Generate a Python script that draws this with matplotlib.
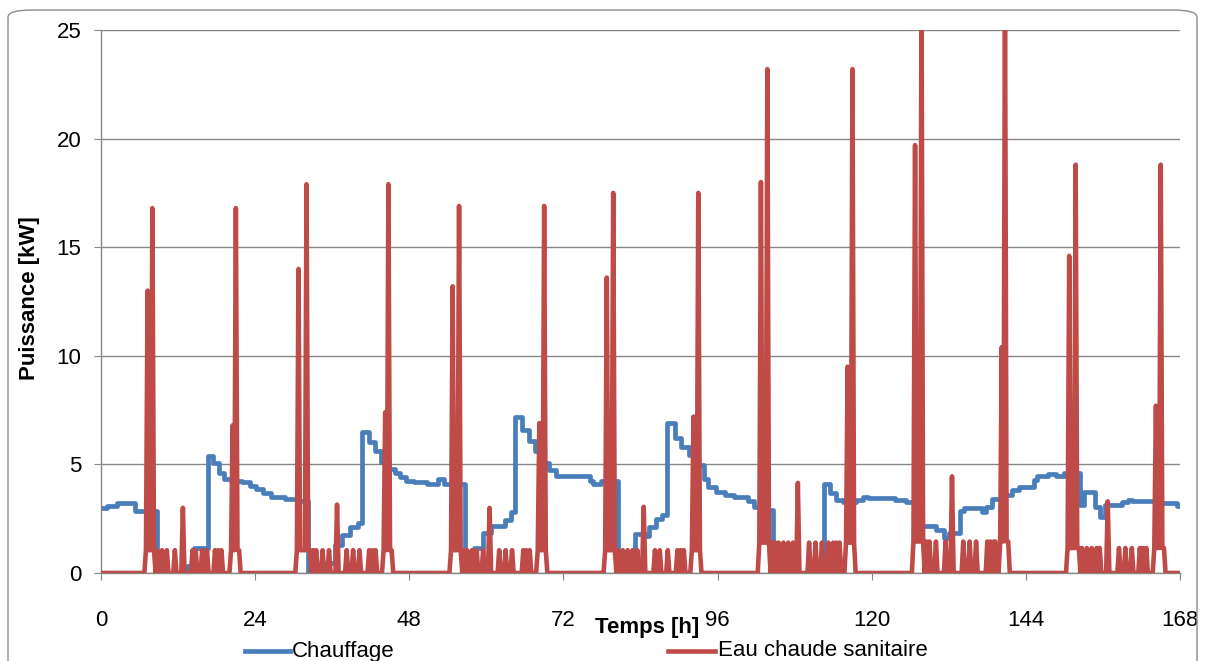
import numpy as np
import matplotlib
matplotlib.use("Agg")
import matplotlib.pyplot as plt
from matplotlib.lines import Line2D
from matplotlib.patches import FancyBboxPatch

plt.rcParams['font.family'] = ['Liberation Sans Narrow', 'Liberation Sans', 'DejaVu Sans']

# Chauffage: step levels (start hour, kW)
chauffage_t = [0, 1, 2.5, 5.3, 8.7, 13.4, 14.5, 16.6, 17.4, 18.4, 19.2, 20.2, 22.0, 23.2,
               24.2, 25.2, 26.4, 28.6, 30.5, 32.2, 35.0, 36.5, 37.5, 38.8, 40.0, 40.6, 41.8,
               42.6, 43.6, 44.8, 45.8, 46.6, 47.5, 48.8, 50.8, 52.5, 53.4, 56.6, 58.0, 59.5,
               60.7, 62.9, 63.9, 64.5, 65.6, 66.7, 67.6, 68.9, 69.7, 70.9, 76.1, 76.6, 77.9,
               80.5, 81.9, 83.2, 84.7, 85.3, 86.4, 87.4, 88.2, 89.4, 90.3, 91.5, 92.8, 93.9,
               94.5, 95.8, 97.1, 98.6, 100.7, 101.7, 103.0, 104.6, 112.5, 113.5, 114.4, 115.5,
               117.5, 118.6, 119.4, 123.6, 125.4, 126.8, 130.0, 131.3, 132.0, 133.8, 134.3,
               137.2, 137.8, 138.7, 140.1, 141.9, 142.9, 145.2, 145.8, 147.4, 148.7, 150.0,
               152.4, 153.1, 154.7, 155.5, 156.3, 158.9, 159.9, 160.5, 164.1, 167.6, 168.0]
chauffage_v = [3.0, 3.1, 3.2, 2.85, 0.0, 0.3, 1.15, 5.4, 5.05, 4.6, 4.35, 4.25, 4.2, 4.0,
               3.85, 3.7, 3.5, 3.4, 3.3, 0.0, 0.45, 1.3, 1.75, 2.1, 2.3, 6.5, 6.05,
               5.6, 5.1, 4.8, 4.6, 4.4, 4.25, 4.2, 4.1, 4.35, 4.1, 0.0, 1.15, 1.85,
               2.15, 2.45, 2.8, 7.2, 6.6, 6.1, 5.6, 5.05, 4.75, 4.45, 4.25, 4.1, 4.25,
               0.0, 0.75, 1.8, 1.7, 2.1, 2.5, 2.65, 6.9, 6.2, 5.8, 5.45, 4.95, 4.35,
               3.95, 3.75, 3.6, 3.5, 3.3, 3.05, 2.9, 0.0, 4.1, 3.7, 3.35, 3.25,
               3.35, 3.5, 3.45, 3.35, 3.25, 2.15, 2.0, 1.6, 1.85, 2.85, 3.0,
               2.8, 3.05, 3.4, 3.6, 3.8, 3.95, 4.3, 4.45, 4.55, 4.45, 4.6,
               3.15, 3.75, 3.05, 2.6, 3.15, 3.25, 3.35, 3.3, 3.2, 3.1, 3.1]

# Eau chaude sanitaire: draw-off peaks on a quarter-hour grid (hour, kW)
ecs_t = [7.0, 7.25, 7.5, 7.75, 8.0, 8.25, 8.75, 9.5, 10.25, 11.5, 12.75, 14.25, 14.75, 15.75,
         16.5, 17.75, 18.25, 18.75, 20.25, 20.5, 20.75, 21.0, 21.25, 21.5,
         30.5, 30.75, 31.0, 31.25, 31.5, 31.75, 32.0, 32.25, 32.5, 33.0, 33.5, 34.5, 35.5,
         36.75, 38.25, 39.25, 40.25, 41.75, 42.25, 42.75, 44.0, 44.25, 44.5, 44.75, 45.0, 45.25,
         54.5, 54.75, 55.0, 55.25, 55.5, 55.75, 56.0, 56.5, 57.0, 57.75, 58.5, 59.5, 60.5,
         62.0, 63.0, 64.0, 65.75, 66.25, 66.75, 68.0, 68.25, 68.5, 68.75, 69.0, 69.25,
         78.5, 78.75, 79.0, 79.25, 79.5, 79.75, 80.0, 80.5, 81.25, 82.0, 82.75, 83.5, 84.5,
         86.25, 87.0, 88.25, 89.75, 90.25, 90.75, 92.0, 92.25, 92.5, 92.75, 93.0, 93.25,
         102.5, 102.75, 103.0, 103.25, 103.5, 103.75, 104.0, 104.5, 105.0, 105.5, 106.25,
         107.0, 107.75, 108.5, 110.25, 111.25, 112.25, 113.25, 114.0, 114.5, 115.0,
         116.0, 116.25, 116.5, 116.75, 117.0, 117.25,
         126.5, 126.75, 127.0, 127.25, 127.5, 127.75, 128.0, 128.5, 129.0, 130.0, 131.5,
         132.5, 134.25, 135.25, 136.25, 138.0, 138.5, 139.0, 139.25,
         140.0, 140.25, 140.5, 140.75, 141.0, 141.25,
         150.5, 150.75, 151.0, 151.25, 151.5, 151.75, 152.0, 152.25, 152.75, 153.5, 154.25,
         155.0, 155.5, 156.75, 158.5, 159.5, 160.5, 161.75, 162.25, 162.75,
         164.0, 164.25, 164.5, 164.75, 165.0, 165.25, 165.5]
ecs_v = [1.05, 13.0, 1.05, 1.05, 16.8, 1.05, 1.05, 1.05, 1.05, 1.05, 3.0, 1.05, 1.05, 1.05,
         1.05, 1.05, 1.05, 1.05, 1.05, 6.8, 1.05, 16.8, 1.05, 1.05,
         1.05, 14.0, 1.05, 1.05, 1.05, 1.05, 17.9, 1.05, 1.05, 1.05, 1.05, 1.05, 1.05,
         3.15, 1.05, 1.05, 1.05, 1.05, 1.05, 1.05, 1.05, 7.4, 1.05, 17.9, 1.05, 1.05,
         1.05, 13.2, 1.05, 1.05, 1.05, 16.9, 1.05, 1.05, 1.05, 1.05, 1.05, 1.05, 3.0,
         1.05, 1.05, 1.05, 1.05, 1.05, 1.05, 1.05, 6.9, 1.05, 1.05, 16.9, 1.05,
         1.05, 13.6, 1.05, 1.05, 1.05, 17.5, 1.05, 1.05, 1.05, 1.05, 1.05, 1.05, 3.05,
         1.05, 1.05, 1.05, 1.05, 1.05, 1.05, 1.05, 7.2, 1.05, 1.05, 17.5, 1.05,
         1.4, 18.0, 1.4, 1.4, 1.4, 23.2, 1.4, 1.4, 1.4, 1.4, 1.4,
         1.4, 1.4, 4.15, 1.4, 1.4, 1.4, 1.4, 1.4, 1.4, 1.4,
         1.4, 9.5, 1.4, 1.4, 23.2, 1.4,
         1.45, 19.7, 1.45, 1.45, 1.45, 27.0, 1.45, 1.45, 1.45, 1.45, 1.45,
         4.45, 1.45, 1.45, 1.45, 1.45, 1.45, 1.45, 1.45,
         1.45, 10.4, 1.45, 27.0, 1.45, 1.45,
         1.15, 14.6, 1.15, 1.15, 1.15, 18.8, 1.15, 1.15, 1.15, 1.15, 1.15,
         1.15, 1.15, 3.3, 1.15, 1.15, 1.15, 1.15, 1.15, 1.15,
         1.15, 7.7, 1.15, 1.15, 18.8, 1.15, 1.15]

x_ticks = [0, 24, 48, 72, 96, 120, 144, 168]
y_ticks = [0, 5, 10, 15, 20, 25]

blue = '#4A7EBB'
red = '#BE4B48'
grey = '#868686'

# quarter-hour grid for the hot water series
grid = np.arange(0, 168.001, 0.25)
ecs = np.zeros_like(grid)
for t, v in zip(ecs_t, ecs_v):
    ecs[int(round(t * 4))] = v

fig = plt.figure(figsize=(12.05, 6.61), dpi=100)
ax = fig.add_axes([101 / 1205, 1 - 573 / 661, 1079 / 1205, 543 / 661])

ax.plot(chauffage_t, chauffage_v, drawstyle='steps-post', color=blue, lw=3.4,
        solid_joinstyle='round', zorder=2)
ax.plot(grid, ecs, color=red, lw=3.3, solid_joinstyle='round', zorder=3)

ax.set_xlim(0, 168)
ax.set_ylim(0, 25)
ax.set_xticks(x_ticks)
ax.set_yticks(y_ticks)
ax.yaxis.grid(True, color=grey, lw=1.0)
ax.set_axisbelow(True)
for side in ['top', 'right']:
    ax.spines[side].set_visible(False)
for side in ['left', 'bottom']:
    ax.spines[side].set_color(grey)
    ax.spines[side].set_linewidth(1.0)
ax.tick_params(axis='both', direction='out', length=5, color=grey, labelsize=16)
ax.tick_params(axis='x', pad=22)
ax.tick_params(axis='y', pad=9)

fig.text(30 / 1205, 1 - 298 / 661, 'Puissance [kW]', rotation=90, ha='center', va='center',
         fontsize=16, fontweight='bold')
fig.text(647 / 1205, 1 - 628 / 661, 'Temps [h]', ha='center', va='center',
         fontsize=16, fontweight='bold')

# legend, sitting on the bottom edge of the image as in the original
ly = 1 - 651 / 661
fig.add_artist(Line2D([245 / 1205, 290 / 1205], [ly, ly], color=blue, lw=3.4))
fig.text(292 / 1205, ly, 'Chauffage', ha='left', va='center', fontsize=16)
fig.add_artist(Line2D([668 / 1205, 715 / 1205], [ly, ly], color=red, lw=3.3))
fig.text(718 / 1205, ly, 'Eau chaude sanitaire', ha='left', va='center', fontsize=16)

# chart frame with rounded corners
frame = FancyBboxPatch((8 / 1205, -0.1), 1189 / 1205, 1.1 - 10 / 661,
                       boxstyle='round,pad=0,rounding_size=0.02', transform=fig.transFigure,
                       fill=False, edgecolor='#8C8C8C', lw=1.0, mutation_aspect=661 / 1205)
fig.add_artist(frame)

fig.savefig('out.png', dpi=100)
